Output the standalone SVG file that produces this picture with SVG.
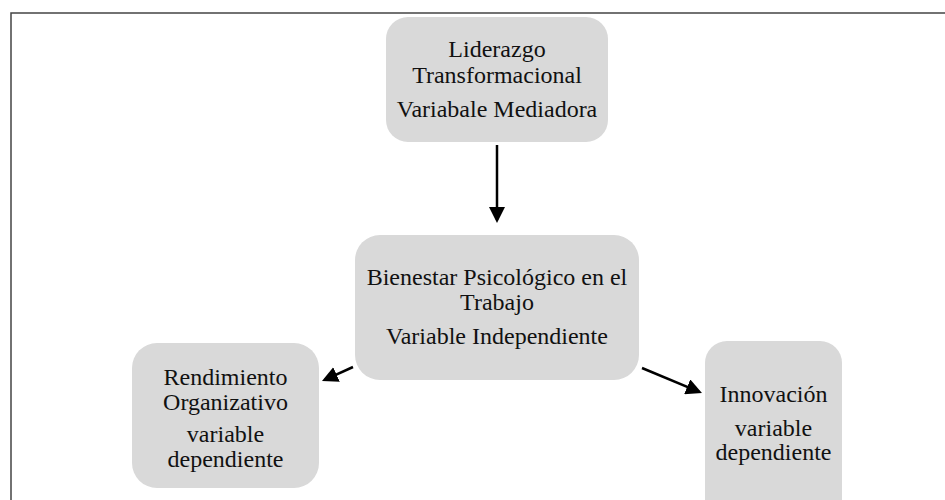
<svg xmlns="http://www.w3.org/2000/svg" width="945" height="500" viewBox="0 0 945 500">
  <style>
    .node { fill: #d9d9d9; stroke: none; }
    .lbl { font-family: "Liberation Serif", "Times New Roman", serif; font-size: 24px; fill: #111; text-anchor: middle; }
    .conn { stroke: #000; stroke-width: 2.5; fill: none; marker-end: url(#arrow); }
    .frame { stroke: #444; stroke-width: 1.5; fill: none; }
  </style>
  <defs>
    <marker id="arrow" viewBox="0 0 16 16" refX="13" refY="8" markerWidth="16" markerHeight="16" markerUnits="userSpaceOnUse" orient="auto">
      <path d="M0,0 L16,8 L0,16 Z" fill="#000"/>
    </marker>
  </defs>
  <rect width="945" height="500" fill="#fff"/>
  <path class="frame" d="M11,500 L11,13 L945,13"/>

  <g id="liderazgo">
    <rect class="node" x="386" y="17" width="222" height="125" rx="22"/>
    <text class="lbl" x="497" y="57">Liderazgo</text>
    <text class="lbl" x="497" y="83">Transformacional</text>
    <text class="lbl" x="497" y="117">Variabale Mediadora</text>
  </g>

  <g id="bienestar">
    <rect class="node" x="355" y="235" width="284" height="145" rx="25"/>
    <text class="lbl" x="497" y="285">Bienestar Psicológico en el</text>
    <text class="lbl" x="497" y="310">Trabajo</text>
    <text class="lbl" x="497" y="344">Variable Independiente</text>
  </g>

  <g id="rendimiento">
    <rect class="node" x="132" y="343" width="187" height="145" rx="25"/>
    <text class="lbl" x="225.5" y="385">Rendimiento</text>
    <text class="lbl" x="225.5" y="410">Organizativo</text>
    <text class="lbl" x="225.5" y="442">variable</text>
    <text class="lbl" x="225.5" y="467">dependiente</text>
  </g>

  <g id="innovacion">
    <rect class="node" x="705" y="341" width="137" height="180" rx="22"/>
    <text class="lbl" x="773.5" y="402">Innovación</text>
    <text class="lbl" x="773.5" y="436">variable</text>
    <text class="lbl" x="773.5" y="460">dependiente</text>
  </g>

  <g id="connectors">
    <path class="conn" d="M497,145 L497,220"/>
    <path class="conn" d="M353,367 L324.7,379.8"/>
    <path class="conn" d="M642,368 L699.2,391.8"/>
  </g>
</svg>
